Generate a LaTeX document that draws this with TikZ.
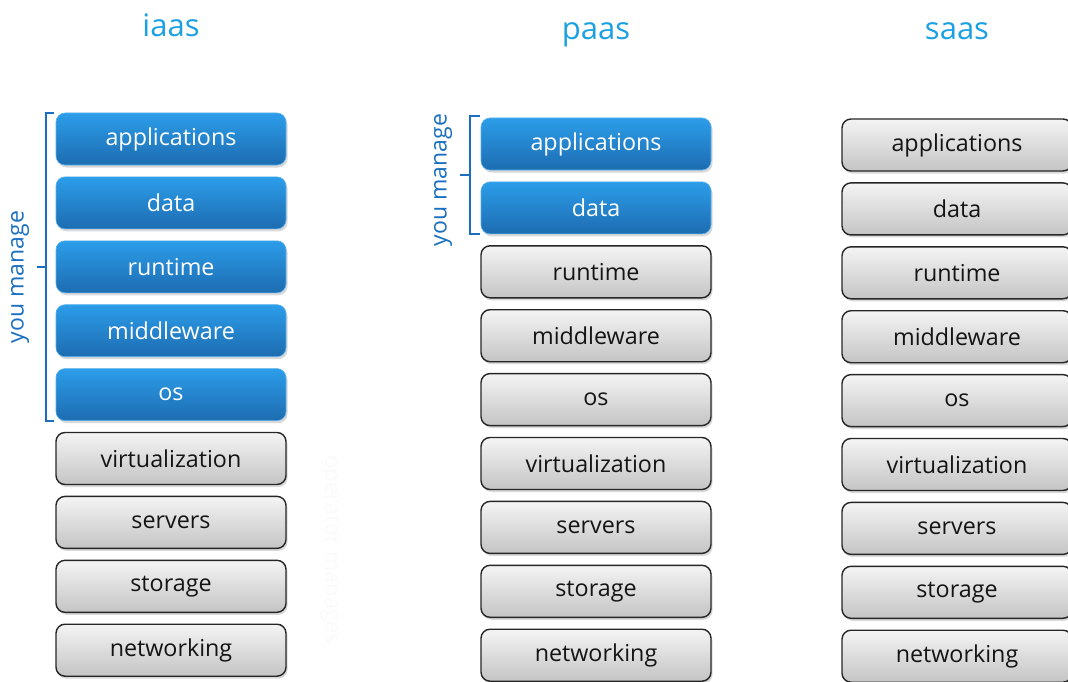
\documentclass[tikz,border=0pt]{standalone}
\usepackage{fontspec}
\setmainfont{Open Sans}
\usetikzlibrary{shadows,calc}
\definecolor{titleblue}{HTML}{1BA1E2}
\definecolor{brk}{HTML}{1A6FC0}
\definecolor{btop}{HTML}{2C9DEA}
\definecolor{bbot}{HTML}{1D6CB0}
\definecolor{gtop}{HTML}{F4F4F4}
\definecolor{gbot}{HTML}{C4C4C4}
\tikzset{
  box/.style={rounded corners=9pt, minimum width=230pt, minimum height=52pt,
    inner sep=0pt, font=\fontsize{23.3}{23.3}\selectfont,
    drop shadow={shadow xshift=1.5pt, shadow yshift=-2.5pt, opacity=0.3}},
  graybox/.style={box, draw=black!85, line width=1.4pt, top color=gtop, bottom color=gbot, text=black!92},
  bluebox/.style={box, draw=btop!80!white, line width=0.6pt, top color=btop, bottom color=bbot, text=white},
  title/.style={font=\fontsize{31}{31}\selectfont, text=titleblue, anchor=base},
  bracket/.style={draw=brk, line width=2pt},
  manage/.style={font=\fontsize{23}{23}\selectfont, text=brk, rotate=90},
  ghost/.style={font=\fontsize{22}{22}\selectfont, text=white!98!black, rotate=-90}
}
\begin{document}
\begin{tikzpicture}[x=1pt,y=-1pt]
\useasboundingbox (0,0) rectangle (1068,682);
\clip (0,0) rectangle (1068,682);
% titles
\node[title] (ti) at (171,37) {iaas};
\node[title] (tp) at (596,40) {paas};
\node[title] (ts) at (957,40) {saas};
% ghost text
\node[ghost] (gh) at (330,550) {operator manages};
% columns
\foreach \t [count=\k] in {applications,data,runtime,middleware,os,virtualization,servers,storage,networking}{
  \ifnum\k<6
    \node[bluebox] (i\k) at (171,{139+(\k-1)*63.9}) {\t};
  \else
    \node[graybox] (i\k) at (171,{139+(\k-1)*63.9}) {\t};
  \fi
  \ifnum\k<3
    \node[bluebox] (p\k) at (596,{144+(\k-1)*63.9}) {\t};
  \else
    \node[graybox] (p\k) at (596,{144+(\k-1)*63.9}) {\t};
  \fi
  \node[graybox] (s\k) at (957,{145+(\k-1)*63.9}) {\t};
}
% iaas bracket
\coordinate (ia) at ($(i1.north west)+(-2,0)$);
\coordinate (ib) at ($(i5.south west)+(-2,0)$);
\draw[bracket] (ia) -- ++(-8,0) coordinate (ia2) -- (ia2 |- ib) coordinate (ib2) -- (ib);
\coordinate (im) at ($(ia2)!0.5!(ib2)$);
\draw[bracket] (im) -- ++(-9,0) coordinate (imt);
\node[manage] (im1) at (20,277) {you manage};
% paas bracket
\coordinate (pa) at ($(p1.north west)+(-1,-2)$);
\coordinate (pb) at ($(p2.south west)+(-1,0)$);
\draw[bracket] (pa) -- ++(-10,0) coordinate (pa2) -- (pa2 |- pb) coordinate (pb2) -- (pb);
\coordinate (pm) at ($(pa2)!0.5!(pb2)$);
\draw[bracket] (pm) -- ++(-10,0) coordinate (pmt);
\node[manage] (pm1) at (443,180) {you manage};
\end{tikzpicture}
\end{document}
